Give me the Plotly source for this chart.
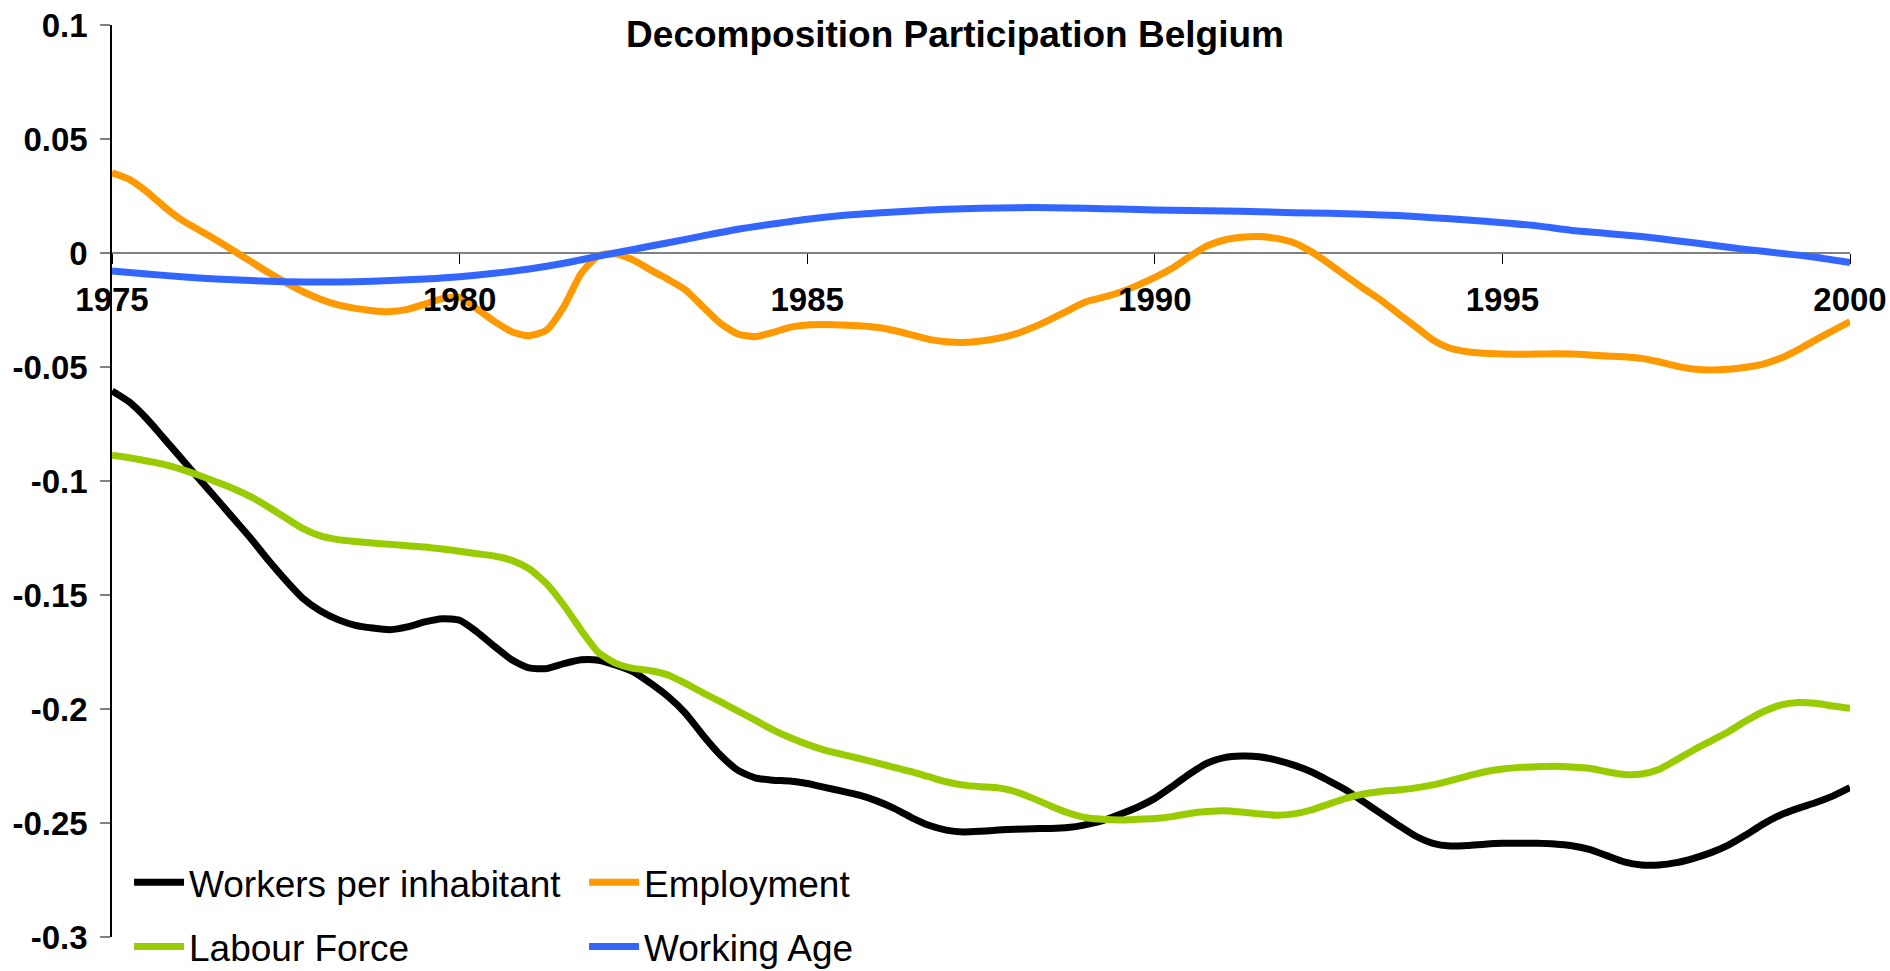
import plotly.graph_objects as go

# ---------------- data ----------------
years_q = [1975 + i / 4 for i in range(101)]
years_h = [1975 + i / 2 for i in range(51)]

workers = [
    -0.0605, -0.0654, -0.0727, -0.0814,
    -0.0902, -0.0990, -0.1077, -0.1165,
    -0.1253, -0.1348, -0.1436, -0.1516,
    -0.1570, -0.1608, -0.1633, -0.1645,
    -0.1652, -0.1640, -0.1618, -0.1604,
    -0.1611, -0.1662, -0.1725, -0.1784,
    -0.1820, -0.1823, -0.1801, -0.1784,
    -0.1786, -0.1808, -0.1837, -0.1888,
    -0.1946, -0.2019, -0.2115, -0.2202,
    -0.2268, -0.2302, -0.2312, -0.2316,
    -0.2327, -0.2344, -0.2360, -0.2378,
    -0.2403, -0.2436, -0.2476, -0.2510,
    -0.2531, -0.2539, -0.2536, -0.2531,
    -0.2527, -0.2525, -0.2524, -0.2520,
    -0.2508, -0.2490, -0.2462, -0.2431,
    -0.2392, -0.2340, -0.2285, -0.2238,
    -0.2213, -0.2206, -0.2209, -0.2224,
    -0.2246, -0.2275, -0.2314, -0.2355,
    -0.2406, -0.2458, -0.2509, -0.2557,
    -0.2589, -0.2601, -0.2599, -0.2593,
    -0.2589, -0.2589, -0.2589, -0.2592,
    -0.2600, -0.2616, -0.2643, -0.2670,
    -0.2684, -0.2684, -0.2674, -0.2655,
    -0.2630, -0.2597, -0.2553, -0.2505,
    -0.2465, -0.2436, -0.2411, -0.2382,
    -0.2345,
]

labour_force = [
    -0.0887, -0.0898, -0.0912, -0.0927,
    -0.0949, -0.0975, -0.1004, -0.1034,
    -0.1070, -0.1114, -0.1162, -0.1209,
    -0.1241, -0.1257, -0.1265, -0.1272,
    -0.1278, -0.1284, -0.1289, -0.1298,
    -0.1308, -0.1319, -0.1329, -0.1348,
    -0.1385, -0.1450, -0.1545, -0.1655,
    -0.1753, -0.1800, -0.1822, -0.1832,
    -0.1851, -0.1888, -0.1929, -0.1968,
    -0.2008, -0.2049, -0.2090, -0.2125,
    -0.2155, -0.2180, -0.2199, -0.2217,
    -0.2236, -0.2256, -0.2275, -0.2297,
    -0.2319, -0.2334, -0.2341, -0.2346,
    -0.2363, -0.2392, -0.2425, -0.2455,
    -0.2476, -0.2484, -0.2487, -0.2484,
    -0.2480, -0.2472, -0.2458, -0.2450,
    -0.2446, -0.2452, -0.2460, -0.2466,
    -0.2460, -0.2443, -0.2417, -0.2392,
    -0.2373, -0.2362, -0.2355, -0.2346,
    -0.2333, -0.2314, -0.2294, -0.2275,
    -0.2263, -0.2256, -0.2253, -0.2251,
    -0.2254, -0.2260, -0.2275, -0.2287,
    -0.2285, -0.2265, -0.2224, -0.2180,
    -0.2140, -0.2100, -0.2053, -0.2012,
    -0.1983, -0.1972, -0.1975, -0.1987,
    -0.1997,
]

employment = [
    0.0352, 0.0323, 0.0269, 0.0203,
    0.0145, 0.0101, 0.0057, 0.0010,
    -0.0038, -0.0086, -0.0130, -0.0170,
    -0.0203, -0.0228, -0.0243, -0.0253,
    -0.0257, -0.0247, -0.0224, -0.0200,
    -0.0195, -0.0245, -0.0300, -0.0345,
    -0.0363, -0.0338, -0.0235, -0.0089,
    -0.0012, -0.0004, -0.0031, -0.0075,
    -0.0116, -0.0162, -0.0236, -0.0308,
    -0.0355, -0.0367, -0.0349, -0.0326,
    -0.0316, -0.0314, -0.0316, -0.0319,
    -0.0326, -0.0340, -0.0359, -0.0379,
    -0.0389, -0.0392, -0.0386, -0.0374,
    -0.0355, -0.0326, -0.0291, -0.0253,
    -0.0215, -0.0195, -0.0172, -0.0142,
    -0.0107, -0.0067, -0.0016, 0.0031,
    0.0057, 0.0069, 0.0072, 0.0064,
    0.0045, 0.0006, -0.0045, -0.0101,
    -0.0155, -0.0206, -0.0265, -0.0323,
    -0.0382, -0.0418, -0.0433, -0.0440,
    -0.0443, -0.0444, -0.0443, -0.0442,
    -0.0443, -0.0447, -0.0452, -0.0455,
    -0.0462, -0.0477, -0.0496, -0.0509,
    -0.0513, -0.0510, -0.0501, -0.0487,
    -0.0462, -0.0425, -0.0382, -0.0341,
    -0.0301,
]

working_age = [
    -0.0079, -0.0092, -0.0104, -0.0114, -0.0121, -0.0126, -0.0127, -0.0126,
    -0.0121, -0.0114, -0.0104, -0.0089, -0.0070, -0.0045, -0.0014, 0.0016,
    0.0045, 0.0075, 0.0104, 0.0127, 0.0148, 0.0164, 0.0175, 0.0184,
    0.0192, 0.0196, 0.0199, 0.0199, 0.0196, 0.0193, 0.0189, 0.0186,
    0.0184, 0.0181, 0.0177, 0.0174, 0.0170, 0.0164, 0.0155, 0.0145,
    0.0133, 0.0119, 0.0099, 0.0086, 0.0072, 0.0054, 0.0035, 0.0016,
    -0.0001, -0.0019, -0.0042,
]

x_ticks = [1975, 1980, 1985, 1990, 1995, 2000]
y_ticks = [0.1, 0.05, 0, -0.05, -0.1, -0.15, -0.2, -0.25, -0.3]
y_tick_text = ["0.1", "0.05", "0", "-0.05", "-0.1", "-0.15", "-0.2", "-0.25", "-0.3"]

title = "Decomposition Participation Belgium"

# ---------------- figure ----------------
FIG_W, FIG_H = 1890, 971
FONT = "Liberation Sans, Arial, Helvetica, sans-serif"
LW = 7

fig = go.Figure()
fig.add_trace(go.Scatter(x=years_q, y=workers, mode="lines", name="Workers per inhabitant",
                         line=dict(color="#000000", width=LW, shape="spline", smoothing=0.6),
                         legend="legend", legendgroup="a"))
fig.add_trace(go.Scatter(x=years_q, y=labour_force, mode="lines", name="Labour Force",
                         line=dict(color="#99CC00", width=LW, shape="spline", smoothing=0.6),
                         legend="legend", legendgroup="b"))
fig.add_trace(go.Scatter(x=years_q, y=employment, mode="lines", name="Employment",
                         line=dict(color="#FF9900", width=LW, shape="spline", smoothing=0.6),
                         legend="legend2", legendgroup="c"))
fig.add_trace(go.Scatter(x=years_h, y=working_age, mode="lines", name="Working Age",
                         line=dict(color="#3366FF", width=LW, shape="spline", smoothing=0.6),
                         legend="legend2", legendgroup="d"))

legend_common = dict(
    orientation="v", xanchor="left", yanchor="top", y=0.0935,
    font=dict(family=FONT, size=37, color="#000000"),
    bgcolor="rgba(0,0,0,0)", tracegroupgap=13, itemwidth=50,
)

fig.update_layout(
    width=FIG_W, height=FIG_H,
    margin=dict(l=112, r=40, t=25, b=34, autoexpand=False),
    paper_bgcolor="white", plot_bgcolor="white",
    font=dict(family=FONT, color="#000000"),
    title=dict(text="<b>" + title + "</b>", x=0.5053, xref="container", xanchor="center",
               y=1 - 34 / FIG_H, yref="container", yanchor="middle",
               font=dict(family=FONT, size=37, color="#000000")),
    legend=dict(x=0.0098, **legend_common),
    legend2=dict(x=0.2716, **legend_common),
    showlegend=True,
)

fig.update_xaxes(
    range=[1975, 2000], anchor="free", position=0.75, automargin=False,
    tickmode="array", tickvals=x_ticks, ticktext=[str(v) for v in x_ticks],
    ticks="outside", ticklen=10, tickcolor="#000000", tickwidth=1,
    tickfont=dict(family=FONT, size=33, color="#000000", weight="bold"),
    ticklabelstandoff=7, ticklabeloverflow="allow",
    showline=False, showgrid=False, zeroline=False,
)
fig.update_yaxes(
    range=[-0.3, 0.1], automargin=False,
    tickmode="array", tickvals=y_ticks, ticktext=y_tick_text,
    ticks="outside", ticklen=10, tickcolor="#808080", tickwidth=2,
    tickfont=dict(family=FONT, size=33, color="#000000", weight="bold"),
    ticklabelstandoff=6, ticklabeloverflow="allow",
    showline=True, linecolor="#000000", linewidth=1.5,
    showgrid=False,
    zeroline=True, zerolinecolor="#808080", zerolinewidth=2,
)

# remove the default 8px page margin so the figure fills the window exactly
fig.write_html("out.html", config={"displayModeBar": False},
               post_script="document.body.style.margin='0';")
